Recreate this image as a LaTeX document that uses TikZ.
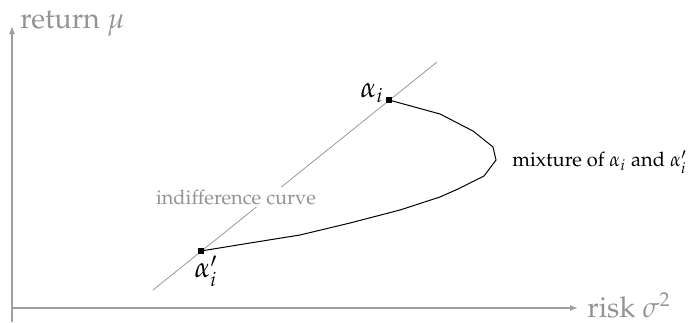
\documentclass[tikz,border=0pt]{standalone}
\usepackage[T1]{fontenc}
\usepackage{mathpazo}
\usetikzlibrary{arrows.meta}
\begin{document}
\begin{tikzpicture}[x=0.5pt,y=-0.5pt,
  axis/.style={draw=gray!75,line width=0.6pt,-{Latex[length=4pt,width=3pt]}},
  indiff/.style={draw=gray!80,line width=0.4pt},
  curve/.style={draw=black,line width=0.5pt},
  pt/.style={fill=black,inner sep=0pt,minimum size=2.6pt,rectangle},
  glabel/.style={text=gray!85,inner sep=0pt},
  lab/.style={inner sep=0pt}]
\useasboundingbox (0,0) rectangle (697,322);
% axes
\coordinate (yb) at (12,322);
\coordinate (yt) at (12,26);
\coordinate (xl) at (12,308);
\coordinate (xr) at (578,308);
\draw[axis] (yb) -- (yt);
\draw[axis] (xl) -- (xr);
\node[glabel,anchor=base west,font=\Large] (ylab) at (20,28) {return $\mu$};
\node[glabel,anchor=base west,font=\Large] (xlab) at (587,317) {risk $\sigma^2$};
% indifference line
\coordinate (il) at (153,290);
\coordinate (iu) at (437,62);
\draw[indiff] (il) -- (iu);
\node[glabel,fill=white,inner sep=1.5pt] (ilab) at (236,197) {indifference curve};
% points
\node[pt] (ai) at (389,100) {};
\node[pt] (aip) at (201,251) {};
\node[lab,font=\Large] (ailab) at (372,93) {$\alpha_i$};
\node[lab,font=\Large] (aiplab) at (206,271) {$\alpha'_i$};
% mixture curve
\draw[curve] (ai.center) -- (440,114) -- (473,131) -- (493,147) -- (496,160) -- (484,176) -- (458,189) -- (440,197) -- (400,210) -- (350,223) -- (300,235) -- (250,243) -- (aip.center);
\node[lab,anchor=west] (mlab) at (512,162) {mixture of $\alpha_i$ and $\alpha'_i$};
\end{tikzpicture}
\end{document}
